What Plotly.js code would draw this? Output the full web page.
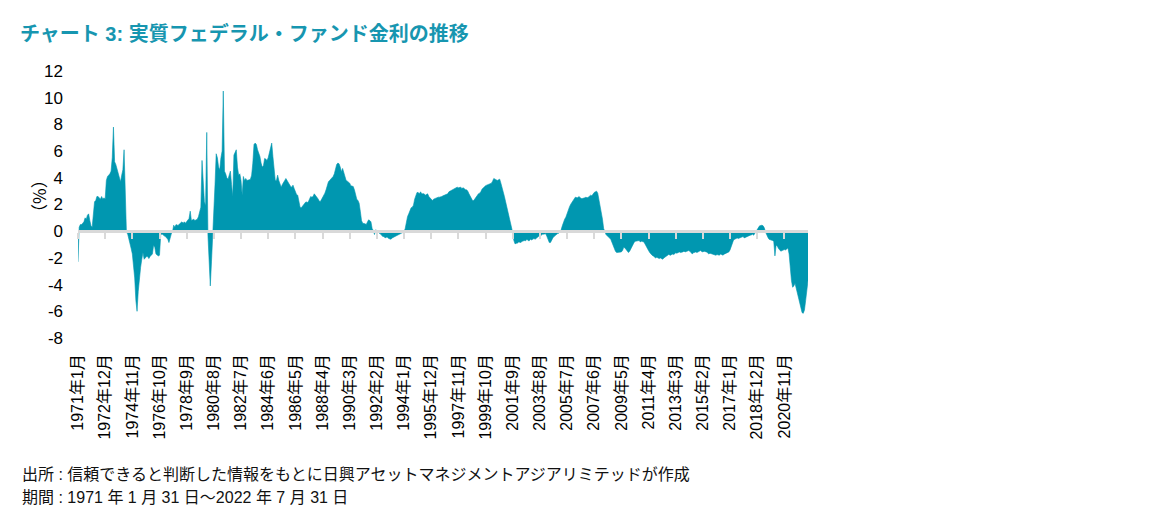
<!DOCTYPE html>
<html>
<head>
<meta charset="utf-8">
<script src="https://cdn.plot.ly/plotly-3.0.1.min.js"></script>
<style>
html,body{margin:0;padding:0;background:#fff;}
#chart{width:1152px;height:524px;}
</style>
</head>
<body>
<div id="chart"></div>
<script>
const startYear = 1971;
const startMonth = 1;

// Real federal funds rate (%), monthly, 1971-01 .. 2022-07
const realRate = [
  -2.3, 0.3, 0.5, 0.5, 0.6, 0.7, 1.0, 0.9, 1.2, 1.3, 0.8, 0.4,
  0.3, 1.5, 2.2, 2.3, 2.6, 2.6, 2.5, 2.4, 2.6, 2.4, 2.5, 2.4,
  3.8, 4.1, 4.2, 4.3, 4.5, 5.5, 7.8, 5.2, 5.0, 4.7, 4.4, 4.0,
  3.7, 4.2, 4.6, 6.1, 3.5, -0.1, -0.2, -0.5, -0.9, -1.3, -1.7, -2.5,
  -3.5, -5.2, -6.0, -4.5, -3.4, -2.7, -2.1, -1.6, -2.1, -2.0, -1.9, -1.9,
  -2.05, -1.9, -1.8, -1.7, -1.05, -1.2, -1.7, -1.8, -1.85, -1.8, -0.3, -0.2,
  -0.3, -0.35, -0.4, -0.5, -0.6, -0.85, -0.4, -0.2, -0.05, 0.45, 0.3, 0.5,
  0.45, 0.45, 0.55, 0.65, 0.7, 0.6, 0.7, 0.6, 0.7, 0.8, 0.95, 1.5,
  0.8, 0.85, 0.9, 0.8, 0.85, 0.9, 1.1, 1.45, 1.8, 5.3, 3.6, 2.2,
  1.9, 7.4, -0.3, -2.0, -4.1, -2.3, -0.5, 1.0, 3.5, 5.8, 5.5, 4.8,
  4.6, 5.5, 6.0, 10.5, 4.5, 4.3, 4.0, 3.9, 4.2, 4.5, 3.5, 2.6,
  5.7, 5.9, 6.1, 4.8, 4.2, 4.3, 3.8, 2.7, 4.1, 3.8, 3.95, 3.8,
  3.8, 3.85, 3.9, 4.2, 5.1, 6.5, 6.6, 6.5, 6.1, 5.8, 5.6, 5.1,
  4.8, 4.9, 5.45, 5.4, 5.3, 5.5, 5.95, 6.4, 6.6, 5.6, 4.5, 3.8,
  3.8, 4.2, 3.8, 3.5, 3.3, 3.5, 3.7, 3.8, 3.95, 3.8, 3.7, 3.45,
  3.35, 3.3, 3.45, 3.2, 2.95, 2.75, 2.7, 2.1, 1.8, 1.75, 1.9, 2.0,
  2.1, 2.2, 2.15, 2.2, 2.45, 2.6, 2.55, 2.6, 2.8, 2.7, 2.55, 2.45,
  2.3, 2.2, 2.35, 2.5, 2.7, 2.85, 3.1, 3.4, 3.7, 3.8, 3.9, 4.0,
  4.1, 4.3, 4.7, 5.0, 5.1, 5.05, 4.8, 4.45, 4.7, 4.4, 4.0, 3.8,
  3.75, 3.7, 3.6, 3.4, 3.35, 3.35, 3.1, 2.7, 2.4, 2.3, 2.1, 1.5,
  0.8, 0.6, 0.6, 0.55, 0.5, 0.75, 0.85, 0.8, 0.7, 0.2, 0.05, -0.25,
  0.1, 0.05, -0.1, -0.15, -0.2, -0.35, -0.4, -0.4, -0.5, -0.45, -0.45, -0.55,
  -0.6, -0.6, -0.5, -0.45, -0.4, -0.35, -0.3, -0.25, -0.2, -0.15, -0.1, -0.08,
  -0.05, 0.2, 0.7, 1.1, 1.3, 1.6, 1.75, 1.8, 1.95, 2.4, 2.75, 2.9,
  2.9, 2.8, 2.95, 2.8, 2.8, 2.8, 2.7, 2.75, 2.8, 2.6, 2.5, 2.4,
  2.3, 2.4, 2.45, 2.5, 2.5, 2.55, 2.55, 2.55, 2.6, 2.65, 2.7, 2.7,
  2.75, 2.8, 2.95, 3.0, 3.05, 3.1, 3.2, 3.25, 3.25, 3.3, 3.25, 3.3,
  3.3, 3.2, 3.25, 3.2, 3.1, 3.1, 3.0, 2.8, 2.65, 2.4, 2.3, 2.3,
  2.45, 2.6, 2.7, 2.8, 2.85, 2.95, 3.15, 3.25, 3.3, 3.4, 3.45, 3.5,
  3.5, 3.55, 3.6, 3.75, 3.95, 3.9, 3.85, 3.8, 3.85, 3.9, 3.6, 3.3,
  3.0, 2.6, 2.2, 1.8, 1.5, 1.2, 0.85, 0.4, -0.1, -0.7, -0.95, -0.9,
  -0.9, -0.8, -0.85, -0.85, -0.75, -0.7, -0.7, -0.72, -0.6, -0.7, -0.72, -0.6,
  -0.65, -0.6, -0.55, -0.6, -0.5, -0.4, -0.38, -0.42, -0.3, -0.22, -0.22, -0.2,
  -0.2, -0.4, -0.6, -0.85, -0.85, -0.6, -0.5, -0.4, -0.3, -0.2, -0.18, -0.15,
  -0.05, 0.1, 0.4, 0.7, 0.9, 1.05, 1.35, 1.6, 1.8, 2.0, 2.15, 2.35,
  2.5, 2.55, 2.52, 2.5, 2.6, 2.5, 2.45, 2.45, 2.45, 2.5, 2.55, 2.5,
  2.55, 2.6, 2.7, 2.65, 2.8, 2.9, 2.95, 3.0, 2.85, 2.4, 2.0, 1.5,
  0.9, 0.2, -0.1, -0.25, -0.35, -0.4, -0.5, -0.6, -0.85, -1.05, -1.35, -1.5,
  -1.6, -1.6, -1.55, -1.6, -1.55, -1.45, -1.2, -1.25, -1.35, -1.5, -1.6, -1.5,
  -1.3, -1.1, -0.9, -0.8, -0.75, -0.72, -0.7, -0.7, -0.8, -0.75, -0.78, -0.8,
  -0.95, -1.15, -1.3, -1.45, -1.6, -1.72, -1.8, -1.85, -1.92, -2.0, -1.95, -2.02,
  -2.05, -2.0, -2.05, -2.1, -2.0, -1.95, -1.88, -1.8, -1.75, -1.78, -1.8, -1.7,
  -1.75, -1.7, -1.62, -1.65, -1.6, -1.55, -1.6, -1.6, -1.55, -1.5, -1.55, -1.52,
  -1.5, -1.45, -1.5, -1.6, -1.7, -1.62, -1.6, -1.55, -1.6, -1.55, -1.5, -1.45,
  -1.52, -1.55, -1.5, -1.52, -1.55, -1.62, -1.7, -1.65, -1.68, -1.7, -1.72, -1.75,
  -1.8, -1.75, -1.78, -1.8, -1.7, -1.75, -1.8, -1.72, -1.68, -1.65, -1.6, -1.55,
  -1.4, -1.15, -0.9, -0.65, -0.6, -0.55, -0.5, -0.55, -0.52, -0.48, -0.42, -0.4,
  -0.5, -0.45, -0.4, -0.4, -0.35, -0.3, -0.28, -0.22, -0.3, -0.15, 0.0, 0.2,
  0.35, 0.4, 0.42, 0.45, 0.4, 0.25, -0.05, -0.3, -0.45, -0.6, -0.62, -0.65,
  -0.7, -0.75, -1.85, -1.05, -1.1, -1.3, -1.4, -1.5, -1.45, -1.4, -1.38, -1.4,
  -1.3, -1.25, -1.7, -2.8, -3.7, -4.2, -4.1, -3.9, -4.3, -4.7, -5.0, -5.4,
  -5.7, -6.1, -6.15, -5.9, -5.2, -4.3, -3.7
];

const tickLabels = [
  '1971年1月', '1972年12月', '1974年11月', '1976年10月', '1978年9月', '1980年8月',
  '1982年7月', '1984年6月', '1986年5月', '1988年4月', '1990年3月', '1992年2月',
  '1994年1月', '1995年12月', '1997年11月', '1999年10月', '2001年9月', '2003年8月',
  '2005年7月', '2007年6月', '2009年5月', '2011年4月', '2013年3月', '2015年2月',
  '2017年1月', '2018年12月', '2020年11月'
];

const yTicks = [-8, -6, -4, -2, 0, 2, 4, 6, 8, 10, 12];
const yTickText = ['-8', '-6', '-4', '-2', '0', '2', '4', '6', '8', '10', '12'];

const titleText = 'チャート 3: 実質フェデラル・ファンド金利の推移';
const yTitle = '（%）';
const sourceText = '出所 : 信頼できると判断した情報をもとに日興アセットマネジメントアジアリミテッドが作成';
const periodText = '期間 : 1971 年 1 月 31 日～2022 年 7 月 31 日';

// month categories derived from the start date
const months = realRate.map((_, i) => {
  const t = (startMonth - 1) + i;
  return (startYear + Math.floor(t / 12)) + '年' + (t % 12 + 1) + '月';
});

const teal = '#0097B0';
const FONT = '"Liberation Sans", Arial, "Noto Sans CJK JP", sans-serif';

const traces = [
  {
    x: months, y: realRate, type: 'scatter', mode: 'lines',
    fill: 'tozeroy', fillcolor: teal,
    line: {color: teal, width: 0.6},
    xaxis: 'x', yaxis: 'y', hoverinfo: 'skip', showlegend: false
  },
  {
    x: months, y: realRate, type: 'scatter', mode: 'lines',
    line: {color: 'rgba(0,0,0,0)', width: 0},
    xaxis: 'x2', yaxis: 'y', hoverinfo: 'skip', showlegend: false
  }
];

const layout = {
  width: 1152, height: 524,
  paper_bgcolor: '#ffffff', plot_bgcolor: '#ffffff',
  margin: {l: 78, r: 344, t: 71, b: 186, pad: 0},
  showlegend: false,
  font: {family: FONT, color: '#000'},
  title: {
    text: '<b>' + titleText + '</b>',
    x: 20 / 1152, xanchor: 'left', xref: 'container',
    y: 1 - 34 / 524, yanchor: 'middle', yref: 'container',
    font: {family: FONT, size: 20, color: '#1796B0'}
  },
  xaxis: {
    type: 'category',
    range: [0, months.length - 1],
    anchor: 'free', position: 0.4,
    showline: true, linecolor: '#D9D9D9', linewidth: 3,
    ticks: 'outside', ticklen: 6, tickwidth: 2, tickcolor: '#D9D9D9',
    tickmode: 'array', tickvals: tickLabels, ticktext: tickLabels.map(() => ''),
    showticklabels: false, showgrid: false, zeroline: false,
    fixedrange: true
  },
  xaxis2: {
    type: 'category',
    matches: 'x', overlaying: 'x', anchor: 'y', side: 'bottom',
    tickmode: 'array', tickvals: tickLabels, ticktext: tickLabels,
    tickangle: -90, ticks: '', ticklabelstandoff: 12,
    tickfont: {family: FONT, size: 16, color: '#000'},
    showline: false, showgrid: false, zeroline: false
  },
  yaxis: {
    range: [-8, 12],
    tickmode: 'array', tickvals: yTicks, ticktext: yTickText,
    ticks: '', showline: false, showgrid: false, zeroline: false,
    ticklabelstandoff: 14,
    tickfont: {family: FONT, size: 17, color: '#000'}
  },
  annotations: [
    {
      text: yTitle, xref: 'paper', yref: 'paper',
      x: (38 - 78) / 730, y: (338 - 196) / 267,
      xanchor: 'center', yanchor: 'middle', textangle: -90, showarrow: false,
      font: {family: '"Noto Sans CJK JP", sans-serif', size: 17, color: '#000'}
    },
    {
      text: sourceText, xref: 'paper', yref: 'paper',
      x: (20 - 78) / 730, y: (338 - 474) / 267,
      xanchor: 'left', yanchor: 'middle', showarrow: false,
      font: {family: FONT, size: 16, color: '#111'}
    },
    {
      text: periodText, xref: 'paper', yref: 'paper',
      x: (20 - 78) / 730, y: (338 - 497) / 267,
      xanchor: 'left', yanchor: 'middle', showarrow: false,
      font: {family: FONT, size: 16, color: '#111'}
    }
  ]
};

Plotly.newPlot('chart', traces, layout, {displayModeBar: false, staticPlot: true});
</script>
</body>
</html>
